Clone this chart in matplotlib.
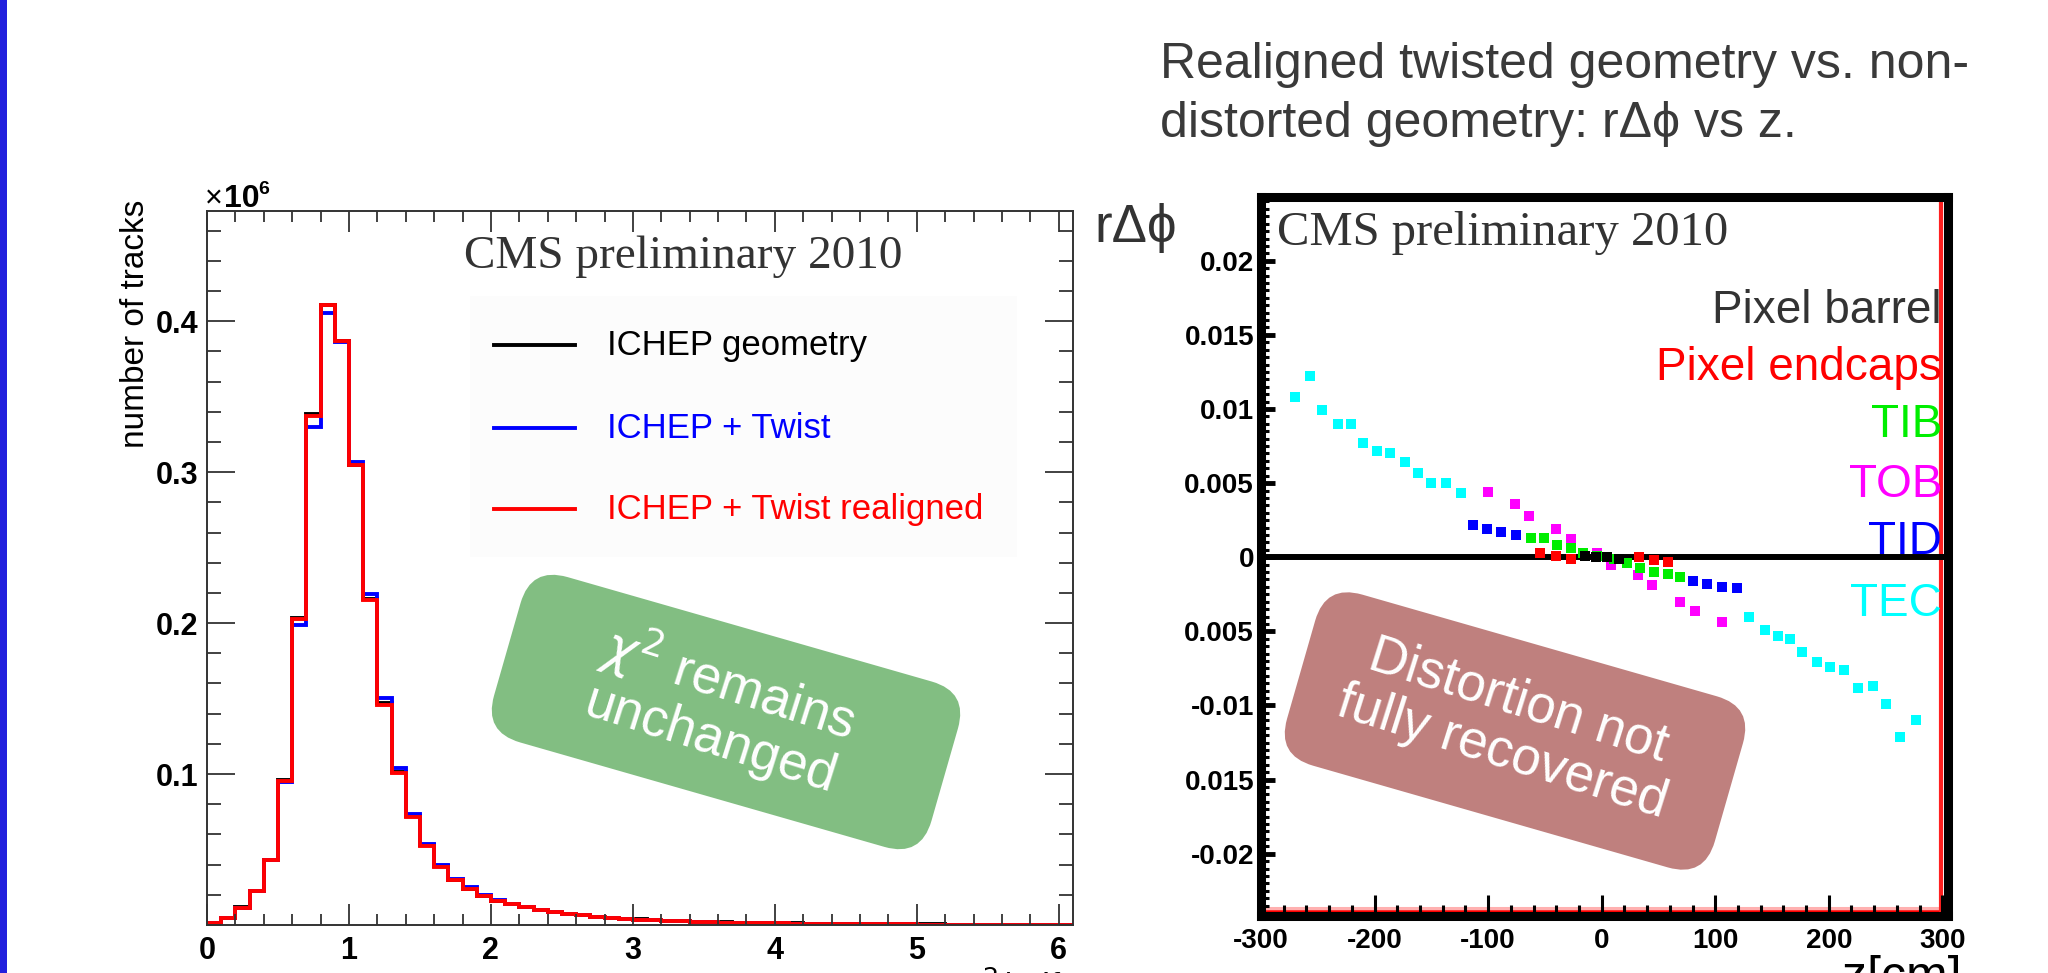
import matplotlib
matplotlib.use("Agg")
import matplotlib.pyplot as plt
import numpy as np
from matplotlib.patches import FancyBboxPatch, Rectangle
from matplotlib.transforms import Affine2D
from matplotlib.ticker import MultipleLocator

W, H = 2048, 973
plt.rcParams['font.family'] = ['Liberation Sans', 'DejaVu Sans']
plt.rcParams['mathtext.fontset'] = 'dejavusans'
plt.rcParams['axes.unicode_minus'] = False

# ---- left: chi2/ndf histogram, 0.1 wide bins, counts in units of 1e6 ----
chi2_edges = np.round(np.arange(0, 6.15, 0.1), 1)
counts_ichep = [0.0010, 0.0045, 0.0116, 0.0226, 0.0432, 0.0960, 0.2035, 0.3385, 0.4110, 0.3870,
                0.3050, 0.2160, 0.1470, 0.1015, 0.0720, 0.0527, 0.0390, 0.0300, 0.0238, 0.0194,
                0.0161, 0.0138, 0.0118, 0.0100, 0.0086, 0.0074, 0.0065, 0.0056, 0.0048, 0.0042,
                0.0037, 0.0032, 0.0028, 0.0025, 0.0022, 0.0019, 0.0017, 0.0015, 0.0013, 0.0012,
                0.0011, 0.0010, 0.0009, 0.0008, 0.0008, 0.0007, 0.0006, 0.0006, 0.0005, 0.0005,
                0.0004, 0.0004, 0.0003, 0.0003, 0.0003, 0.0002, 0.0002, 0.0002, 0.0001, 0.0001,
                0.0001]
counts_twist = [0.0010, 0.0045, 0.0115, 0.0225, 0.0430, 0.0950, 0.1990, 0.3300, 0.4055, 0.3860,
                0.3066, 0.2190, 0.1505, 0.1037, 0.0733, 0.0536, 0.0400, 0.0303, 0.0250, 0.0197,
                0.0163, 0.0139, 0.0118, 0.0100, 0.0086, 0.0074, 0.0064, 0.0055, 0.0047, 0.0041,
                0.0036, 0.0031, 0.0027, 0.0024, 0.0021, 0.0018, 0.0016, 0.0014, 0.0012, 0.0011,
                0.0010, 0.0009, 0.0008, 0.0007, 0.0007, 0.0006, 0.0005, 0.0005, 0.0004, 0.0004,
                0.0003, 0.0003, 0.0003, 0.0002, 0.0002, 0.0002, 0.0002, 0.0001, 0.0001, 0.0001,
                0.0001]
counts_realigned = [0.0010, 0.0045, 0.0115, 0.0225, 0.0430, 0.0955, 0.2030, 0.3375, 0.4110, 0.3870,
                    0.3045, 0.2150, 0.1460, 0.1010, 0.0715, 0.0523, 0.0386, 0.0298, 0.0236, 0.0192,
                    0.0160, 0.0137, 0.0117, 0.0099, 0.0085, 0.0073, 0.0064, 0.0055, 0.0047, 0.0041,
                    0.0036, 0.0031, 0.0027, 0.0024, 0.0021, 0.0018, 0.0016, 0.0014, 0.0012, 0.0011,
                    0.0010, 0.0009, 0.0008, 0.0007, 0.0007, 0.0006, 0.0005, 0.0005, 0.0004, 0.0004,
                    0.0003, 0.0003, 0.0003, 0.0002, 0.0002, 0.0002, 0.0002, 0.0001, 0.0001, 0.0001,
                    0.0001]
hist_labels = ["ICHEP geometry", "ICHEP + Twist", "ICHEP + Twist realigned"]
hist_colors = ["black", "#0000ff", "#ff0000"]
chi2_ticks = [0, 1, 2, 3, 4, 5, 6]
tracks_ticks = [0.1, 0.2, 0.3, 0.4]

# ---- right: r*dphi vs z per subdetector ----
tec_z = [-270, -257, -246, -232, -221, -210, -198, -186, -173, -162, -150, -137, -124,
         130, 144, 155, 166, 176, 190, 201, 213, 226, 239, 250, 263, 277]
tec_r = [0.0108, 0.0122, 0.0099, 0.0090, 0.0090, 0.0077, 0.0072, 0.0070, 0.0064, 0.0057, 0.0050, 0.0050, 0.0043,
         -0.0040, -0.0049, -0.0053, -0.0055, -0.0064, -0.0071, -0.0074, -0.0076, -0.0088, -0.0087, -0.0099, -0.0121, -0.0110]
tob_z = [-100, -76, -64, -40, -27, -4, 8, 32, 44, 69, 82, 106]
tob_r = [0.0044, 0.0036, 0.0028, 0.0019, 0.0012, 0.0003, -0.0005, -0.0012, -0.0019, -0.0030, -0.0036, -0.0044]
tid_z = [-113, -101, -89, -75, 80, 93, 106, 119]
tid_r = [0.0022, 0.0019, 0.0017, 0.0015, -0.0016, -0.0018, -0.0020, -0.0021]
tib_z = [-62, -51, -39, -27, -16, -4, 11, 22, 34, 46, 58, 69]
tib_r = [0.0013, 0.0013, 0.0008, 0.0006, 0.0003, 0.0001, -0.0001, -0.0004, -0.0007, -0.0010, -0.0011, -0.0013]
fpix_z = [-54, -40, -27, 33, 46, 58]
fpix_r = [0.0003, 0.0001, -0.0001, 0.0000, -0.0002, -0.0003]
bpix_z = [-15, -5, 5, 15]
bpix_r = [0.0001, 0.0000, 0.0000, -0.0001]

subdet_names = ["Pixel barrel", "Pixel endcaps", "TIB", "TOB", "TID", "TEC"]
subdet_colors = ["#333333", "#ff0000", "#00ee00", "#ff00ff", "#0000ff", "#00ffff"]
z_ticks = [-300, -200, -100, 0, 100, 200, 300]
rphi_ticks = [-0.02, -0.015, -0.01, -0.005, 0, 0.005, 0.01, 0.015, 0.02]
rphi_ticklabels = ['-0.02', '0.015', '-0.01', '0.005', '0', '0.005', '0.01', '0.015', '0.02']

fig = plt.figure(figsize=(W / 100, H / 100), dpi=100)
fig.patch.set_facecolor('white')

# ------------------------------------------------------------ left panel
ax = fig.add_axes([207 / W, 1 - 925 / H, (1073 - 207) / W, (925 - 211) / H])
for vals, col in zip([counts_ichep, counts_twist, counts_realigned], hist_colors):
    ax.stairs(vals, chi2_edges, color=col, lw=2.8)
ax.set_xlim(0, 6.1)
ax.set_ylim(0, 0.473)
ax.set_xticks(chi2_ticks)
ax.set_yticks(tracks_ticks)
ax.set_yticklabels([str(t) for t in tracks_ticks])
ax.xaxis.set_minor_locator(MultipleLocator(0.2))
ax.yaxis.set_minor_locator(MultipleLocator(0.02))
ax.tick_params(which='both', direction='in', top=True, right=True, color='#333333', width=1.3)
ax.tick_params(axis='x', which='major', length=15, pad=8)
ax.tick_params(axis='x', which='minor', length=8)
ax.tick_params(axis='y', which='major', length=20, pad=6)
ax.tick_params(axis='y', which='minor', length=10)
for lab in ax.get_xticklabels() + ax.get_yticklabels():
    lab.set_fontsize(22)
    lab.set_fontweight('bold')
for sp in ax.spines.values():
    sp.set_linewidth(1.4)
    sp.set_color('#333333')
# faint legend background
ax.add_patch(Rectangle((0.304, 0.515), 0.631, 0.366, transform=ax.transAxes,
                       facecolor='#fcfcfc', edgecolor='none', zorder=0))

# ------------------------------------------------------------ right panel
ax2 = fig.add_axes([1261 / W, 1 - 916 / H, (1948 - 1261) / W, (916 - 197) / H])
ax2.axhline(0, color='black', lw=4.3, zorder=1.5)
ax2.axhline(-0.02366, color='#ffb0b0', lw=2.2, zorder=1.4)
ax2.axhline(-0.0239, color='#ff0000', lw=2.6, zorder=1.45)
ax2.axvline(299, color='#ff2020', lw=3, zorder=1.45)
for zz, rr, col in [(tec_z, tec_r, subdet_colors[5]), (tob_z, tob_r, subdet_colors[3]),
                    (tid_z, tid_r, subdet_colors[4]), (tib_z, tib_r, subdet_colors[2]),
                    (fpix_z, fpix_r, subdet_colors[1]), (bpix_z, bpix_r, 'black')]:
    ax2.plot(zz, rr, ls='none', marker='s', ms=6.8, mew=0, color=col, zorder=3)
ax2.set_xlim(-298, 305)
ax2.set_ylim(-0.0242, 0.0243)
ax2.set_xticks(z_ticks)
ax2.set_yticks(rphi_ticks)
ax2.set_yticklabels(rphi_ticklabels)
ax2.xaxis.set_minor_locator(MultipleLocator(20))
ax2.yaxis.set_minor_locator(MultipleLocator(0.0005))
ax2.tick_params(which='both', direction='in', color='black')
ax2.tick_params(axis='x', which='major', length=15, width=2.2, pad=9)
ax2.tick_params(axis='x', which='minor', length=8, width=2.2)
ax2.tick_params(axis='y', which='major', length=10, width=3.5, pad=5)
ax2.tick_params(axis='y', which='minor', length=6, width=2.2)
for lab in ax2.get_xticklabels() + ax2.get_yticklabels():
    lab.set_fontsize(20)
    lab.set_fontweight('bold')
for sp in ax2.spines.values():
    sp.set_linewidth(6.5)
    sp.set_color('black')

# ------------------------------------------------------------ overlay (pixel coords)
ov = fig.add_axes([0, 0, 1, 1], zorder=10)
ov.set_xlim(0, W)
ov.set_ylim(H, 0)
ov.axis('off')

ov.add_patch(Rectangle((0, 0), 7, H, facecolor='#2220dd', edgecolor='none'))

# left panel texts
ov.text(205, 207, '\u00d7', fontsize=22, ha='left', va='baseline')
ov.text(224, 207, '10', fontsize=23, fontweight='bold', ha='left', va='baseline')
ov.text(258, 194, '6', fontsize=14, fontweight='bold', ha='left', va='baseline')
ov.text(136, 200, 'number of tracks', rotation=90, fontsize=24, ha='center', va='top')
ov.text(464, 268, 'CMS preliminary 2010', family='Liberation Serif', fontsize=34,
        color='#333333', ha='left', va='baseline')
for i, (lab, col) in enumerate(zip(hist_labels, hist_colors)):
    y = [345, 428, 509][i]
    ov.plot([494, 575], [y, y], color=col, lw=2.8)
    ov.text(607, y, lab, color=col, fontsize=25, ha='left', va='center')
ov.text(1062, 966, r'$\chi^2$/ndf', fontsize=26, ha='right', va='top')

# right panel texts
ov.text(1160, 78, 'Realigned twisted geometry vs. non-', fontsize=36, color='#3a3a3a',
        ha='left', va='baseline')
ov.text(1160, 137, 'distorted geometry: r\u0394\u03d5 vs z.', fontsize=36, color='#3a3a3a',
        ha='left', va='baseline')
ov.text(1094, 242, 'r\u0394\u03d5', fontsize=38, color='#333333', ha='left', va='baseline')
ov.text(1277, 245, 'CMS preliminary 2010', family='Liberation Serif', fontsize=35,
        color='#333333', ha='left', va='baseline')
for lab, col, y in zip(subdet_names, subdet_colors, [311, 368, 425, 485, 542, 604]):
    ov.text(1942, y, lab, color=col, fontsize=33, ha='right', va='center')
ov.text(1962, 955, 'z[cm]', fontsize=36, ha='right', va='top')


def note_box(cx, cy, w, h, ang, col, txt, size):
    tr = Affine2D().rotate_deg_around(cx, cy, ang) + ov.transData
    ov.add_patch(FancyBboxPatch((cx - w / 2, cy - h / 2), w, h,
                                boxstyle="round,pad=0,rounding_size=38",
                                facecolor=col, edgecolor='none', transform=tr))
    ov.text(cx - 5, cy - 4, txt, color='white', fontsize=size, ha='center', va='center',
            rotation=-ang - 1.5, rotation_mode='anchor', linespacing=1.1)


note_box(726, 712, 455, 172, 16, '#82be82', '$\\chi^2$ remains\nunchanged', 38)
note_box(1515, 731, 445, 178, 16, '#bf807e', 'Distortion not\nfully recovered', 38)

fig.savefig('out.png', dpi=100)
